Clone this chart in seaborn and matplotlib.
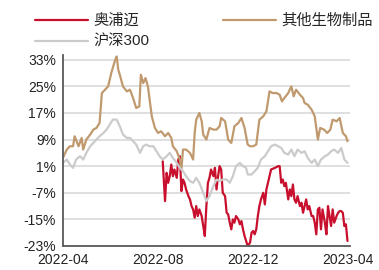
import numpy as np
import pandas as pd
import matplotlib.pyplot as plt
import matplotlib.dates as mdates
from matplotlib.ticker import FuncFormatter
import seaborn as sns

start = pd.Timestamp('2022-04-01')

# days since 2022-04-01, cumulative return in %
bio_days = [0, 5, 9, 13, 15, 20, 24, 26, 30, 35, 39, 43, 47, 50, 54, 58, 62, 67, 69, 71,
            73, 77, 82, 86, 90, 94, 98, 100, 103, 106, 109, 114, 118, 122, 126, 131, 135, 139, 141, 146,
            150, 152, 154, 158, 163, 167, 169, 171, 175, 178, 180, 184, 188, 193, 197, 201, 203, 208, 212, 216,
            220, 225, 229, 233, 237, 240, 244, 248, 252, 257, 261, 265, 269, 274, 278, 281, 284, 289, 293, 296,
            299, 304, 308, 310, 314, 319, 323, 327, 330, 335, 339, 343, 346, 351, 355, 359, 363, 365]
bio_vals = [3.5, 6, 7, 7, 10, 7, 9.5, 6, 9, 10.5, 12, 12.5, 14, 23, 24, 25, 29, 33, 34, 30,
            28.5, 25, 23.5, 24, 21.5, 18.5, 19, 28.5, 26, 27.5, 25, 16, 12.5, 11, 11.5, 10, 11, 9.5, 7, 5.5,
            3, 0, 6, 6, 5, 3, 11, 15, 17, 14.5, 10.5, 9, 12.5, 12, 12, 13, 15.5, 14.5, 9, 8,
            13, 14, 15.5, 12.5, 7.5, 7, 7, 7.5, 15, 16, 17.5, 23.5, 23, 23, 22.5, 20.5, 21.5, 23, 25, 22,
            24, 22.5, 21.5, 20, 19.5, 18, 16, 9, 12.5, 12, 11, 12, 15, 14.5, 15.5, 11, 10, 8.5]

hs300_days = [0, 5, 9, 13, 17, 22, 26, 30, 35, 39, 43, 47, 52, 56, 60, 64, 69, 73, 77, 82,
              86, 90, 94, 99, 103, 107, 111, 116, 120, 124, 128, 133, 137, 141, 146, 150, 154, 158, 163, 167,
              171, 175, 180, 184, 188, 193, 197, 201, 205, 210, 214, 218, 222, 227, 231, 235, 237, 242, 246, 250,
              254, 259, 263, 267, 272, 276, 280, 284, 289, 293, 297, 301, 306, 310, 314, 319, 323, 327, 331, 336,
              340, 344, 348, 353, 357, 361, 365]
hs300_vals = [2, 3, 1.5, 0.5, 3, 4, 3, 5, 7, 8, 9, 10, 11, 12, 13.5, 15, 15, 13, 10.5, 9.5,
              9.5, 8.5, 7.5, 5, 7, 7.5, 7, 7, 5.5, 4, 3, 4, 5, 3.5, 2, 0.5, -0.5, -2, -3.5, -4,
              -2.5, -4, -7, -9.5, -8, -5, -3, -3.5, -3, -3, -4, -2, 1, 2, 1, 0.5, -1.5, -1.5, -0.5, 0.5,
              3, 4, 5.5, 7, 7.5, 7, 6.5, 5, 4.5, 6, 4, 6, 5, 5.5, 3.5, 2, 3, 1, 3, 4,
              4.5, 5.5, 6, 5, 6.5, 3, 2]

aopumai_days = [128, 131, 133, 135, 137, 139, 141, 143, 146, 148, 150, 152, 154, 156, 158, 161, 163, 165, 167, 169,
                171, 173, 175, 178, 180, 182, 184, 186, 188, 190, 193, 195, 197, 199, 201, 203, 205, 208, 210, 212,
                214, 216, 218, 220, 222, 225, 227, 229, 231, 233, 235, 237, 240, 242, 244, 246, 248, 250, 252, 254,
                257, 259, 261, 263, 265, 267, 272, 276, 278, 280, 282, 284, 286, 289, 291, 293, 295, 297, 299, 301,
                304, 306, 308, 310, 312, 314, 316, 319, 321, 323, 325, 327, 329, 331, 333, 336, 338, 340, 342, 344,
                346, 348, 351, 353, 355, 357, 359, 361, 363, 365]
aopumai_vals = [2.5, -9.5, -1, -4, -2, 1.5, -2, 0, -2.5, 3, 4, -6.5, -3, -4, -6, -8, -9, -11, -12, -14.5,
                -11, -14, -12, -14, -17, -20, -11, -4, -2.5, 0, -2, 0.5, -6, -2, 1, 0, -7, -8, -13, -13.5,
                -16, -18, -15, -16, -14, -15, -16.5, -15.5, -18, -20, -21.5, -23, -22, -19, -18.5, -19.5, -18, -14, -11, -9,
                -7, -10.5, -6, -4, -2, 0, 0.5, 1, 1, -4, -3, -5, -4, -9, -6, -8, -4.5, -9, -10, -8,
                -11, -10, -13, -11, -9, -12, -11, -14, -14, -16, -19.5, -12, -11.5, -18, -12, -16, -19.5, -11, -14, -17,
                -12, -16, -14, -13, -12.5, -12.5, -13, -17, -16.5, -21.5]

names = ['奥浦迈', '其他生物制品', '沪深300']
colors = ['#C8102E', '#C09A6E', '#CBCBCB']

frames = []
for name, d, v in zip(names, [aopumai_days, bio_days, hs300_days], [aopumai_vals, bio_vals, hs300_vals]):
    frames.append(pd.DataFrame({'date': start + pd.to_timedelta(d, unit='D'), 'value': v, 'series': name}))
df = pd.concat(frames, ignore_index=True)

sns.set_style('white')
plt.rcParams['font.family'] = ['Liberation Sans', 'Noto Sans CJK SC']

fig = plt.figure(figsize=(3.79, 2.70), dpi=100)
ax = fig.add_axes([0.166, 0.089, 0.757, 0.708])

ax.set_yticks([-23, -15, -7, 1, 9, 17, 25, 33])
ax.yaxis.grid(True, color='#DCDCDC', linewidth=1.3)
ax.set_axisbelow(True)

sns.lineplot(data=df, x='date', y='value', hue='series', hue_order=names,
             palette=colors, linewidth=1.6, ax=ax)

ax.set_ylim(-23, 34.5)
ax.set_xlim(start, pd.Timestamp('2023-04-04'))
ax.yaxis.set_major_formatter(FuncFormatter(lambda v, p: f'{v:.0f}%'))
ax.set_xticks(pd.to_datetime(['2022-04-01', '2022-08-01', '2022-12-01', '2023-04-01']))
ax.xaxis.set_major_formatter(mdates.DateFormatter('%Y-%m'))
ax.set_xlabel('')
ax.set_ylabel('')
ax.tick_params(axis='both', labelsize=10, colors='#222222', length=3, width=1, pad=2, direction='out')
ax.tick_params(axis='both', color='#595959')
for s in ['top', 'right']:
    ax.spines[s].set_visible(False)
for s in ['left', 'bottom']:
    ax.spines[s].set_color('#595959')
    ax.spines[s].set_linewidth(1.3)

handles, labels = ax.get_legend_handles_labels()
ax.get_legend().remove()
order = [0, 2, 1]
fig.legend([handles[i] for i in order], [labels[i] for i in order], ncol=2,
           loc='upper left', bbox_to_anchor=(0.055, 1.0),
           frameon=False, fontsize=11, handlelength=3.5, handletextpad=0.35,
           columnspacing=4.8, labelspacing=0.45)

fig.savefig('out.png', dpi=100)
